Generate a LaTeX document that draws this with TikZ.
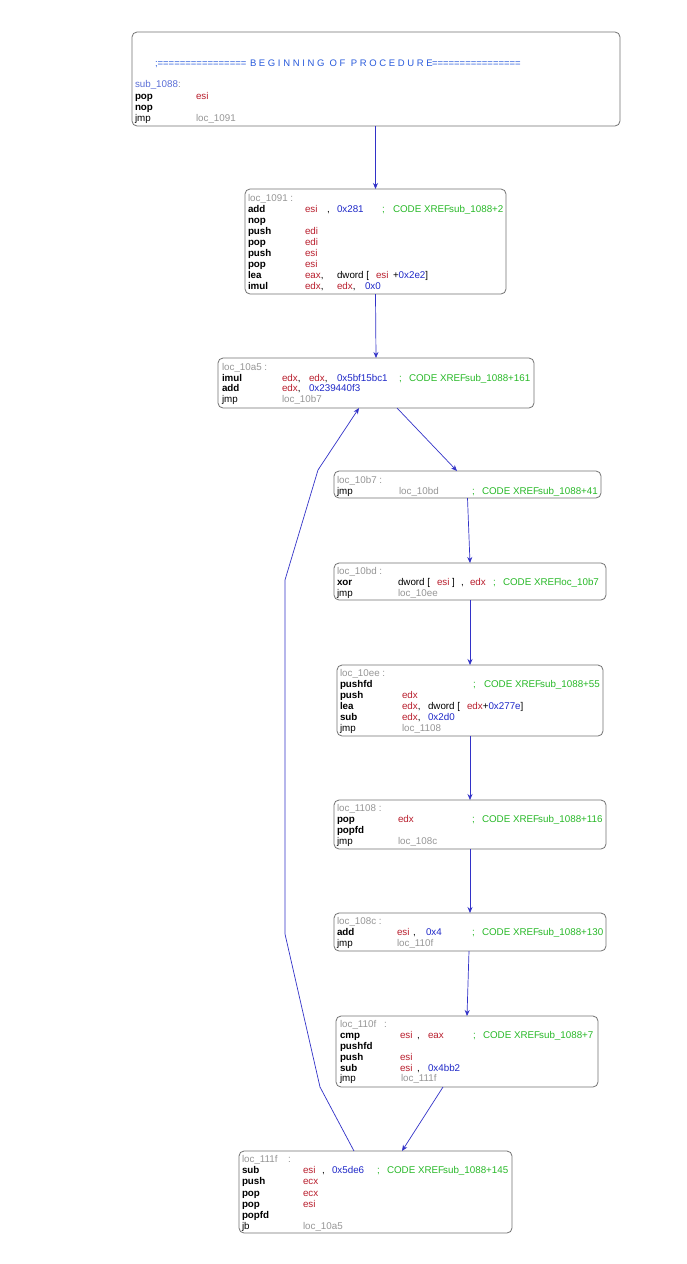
\documentclass[tikz,border=0pt]{standalone}
\usepackage{fontspec}
\setmainfont{Liberation Sans}
\usetikzlibrary{arrows.meta,calc}
\definecolor{boxgray}{RGB}{115,115,115}
\definecolor{regred}{RGB}{185,30,45}
\definecolor{numblue}{RGB}{30,40,200}
\definecolor{cmtgreen}{RGB}{40,185,40}
\definecolor{lblgray}{RGB}{150,150,150}
\definecolor{hdblue}{RGB}{40,90,220}
\definecolor{subblue}{RGB}{90,110,215}
\definecolor{edgeblue}{RGB}{50,50,200}
\newcounter{tkn}
\newcommand\tk[4]{\stepcounter{tkn}\node[tok,asm#3] (tk\arabic{tkn}) at (#1,#2) {#4};}
\newcommand\xref{CODE XREF\kern-1pt }
\begin{document}
\begin{tikzpicture}[x=1pt,y=-1pt,
  box/.style={draw=boxgray,line width=0.8pt,rounded corners=5pt,inner sep=0pt,outer sep=0pt,fill=white},
  tok/.style={anchor=base west,inner sep=0pt,outer sep=0pt,font=\fontsize{9.8}{11}\selectfont},
  asmmn/.style={font=\fontsize{9.8}{11}\selectfont\bfseries,text=black},
  asmpl/.style={text=black},
  asmrg/.style={text=regred},
  asmnm/.style={text=numblue},
  asmcm/.style={text=cmtgreen},
  asmgr/.style={text=lblgray},
  asmhd/.style={text=hdblue,font=\fontsize{9.5}{11}\selectfont},
  asmsb/.style={text=subblue},
  edge/.style={draw=edgeblue,line width=0.7pt,-{Stealth[length=6pt,width=5pt]}}]
\fill[white] (0,0) rectangle (687,1264);
\useasboundingbox (0,0) rectangle (687,1264);

% boxes
\node[box,minimum width=488pt,minimum height=94pt] (b1) at (376,79) {};
\node[box,minimum width=261pt,minimum height=105pt] (b1091) at (375.5,241.5) {};
\node[box,minimum width=316pt,minimum height=50pt] (b10a5) at (376,383) {};
\node[box,minimum width=267pt,minimum height=27pt] (b10b7) at (467.5,484.5) {};
\node[box,minimum width=272pt,minimum height=37pt] (b10bd) at (470,581.5) {};
\node[box,minimum width=266pt,minimum height=71pt] (b10ee) at (470,700.5) {};
\node[box,minimum width=272pt,minimum height=49pt] (b1108) at (470,824.5) {};
\node[box,minimum width=272pt,minimum height=38pt] (b108c) at (470,932) {};
\node[box,minimum width=262pt,minimum height=71pt] (b110f) at (467,1051.5) {};
\node[box,minimum width=273pt,minimum height=82pt] (b111f) at (375.5,1192) {};

% box 1
\tk{155}{66}{hd}{;================}
\tk{250}{66}{hd}{B E G I N N I N G\ \ O F\ \ P R O C E D U R E}
\tk{432}{66}{hd}{================}
\tk{135}{87}{sb}{sub\_1088\textcolor{lblgray}{:}}
\tk{135}{99}{mn}{pop} \tk{196}{99}{rg}{esi}
\tk{135}{110}{mn}{nop}
\tk{135}{121}{pl}{jmp} \tk{196}{121}{gr}{loc\_1091}

% loc_1091
\tk{248}{201}{gr}{loc\_1091 :}
\tk{248}{212}{mn}{add} \tk{305}{212}{rg}{esi} \tk{327}{212}{pl}{,} \tk{337}{212}{nm}{0x281} \tk{382}{212}{cm}{;} \tk{393}{212}{cm}{\xref sub\_1088+2}
\tk{248}{223}{mn}{nop}
\tk{248}{234}{mn}{push} \tk{305}{234}{rg}{edi}
\tk{248}{245}{mn}{pop} \tk{305}{245}{rg}{edi}
\tk{248}{256}{mn}{push} \tk{305}{256}{rg}{esi}
\tk{248}{267}{mn}{pop} \tk{305}{267}{rg}{esi}
\tk{248}{278}{mn}{lea} \tk{305}{278}{rg}{eax\textcolor{black}{,}} \tk{337}{278}{pl}{dword [} \tk{376}{278}{rg}{esi} \tk{393}{278}{pl}{+\textcolor{numblue}{0x2e2}]}
\tk{248}{289}{mn}{imul} \tk{305}{289}{rg}{edx\textcolor{black}{,}} \tk{337}{289}{rg}{edx\textcolor{black}{,}} \tk{365}{289}{nm}{0x0}

% loc_10a5
\tk{222}{370}{gr}{loc\_10a5 :}
\tk{222}{381}{mn}{imul} \tk{282}{381}{rg}{edx\textcolor{black}{,}} \tk{309}{381}{rg}{edx\textcolor{black}{,}} \tk{337}{381}{nm}{0x5bf15bc1} \tk{399}{381}{cm}{;} \tk{409}{381}{cm}{\xref sub\_1088+161}
\tk{222}{391}{mn}{add} \tk{282}{391}{rg}{edx\textcolor{black}{,}} \tk{309}{391}{nm}{0x239440f3}
\tk{222}{402}{pl}{jmp} \tk{282}{402}{gr}{loc\_10b7}

% loc_10b7
\tk{337}{483}{gr}{loc\_10b7 :}
\tk{337}{494}{pl}{jmp} \tk{399}{494}{gr}{loc\_10bd} \tk{472}{494}{cm}{;} \tk{482}{494}{cm}{\xref sub\_1088+41}

% loc_10bd
\tk{337}{574}{gr}{loc\_10bd :}
\tk{337}{585}{mn}{xor} \tk{398}{585}{pl}{dword [} \tk{437}{585}{rg}{esi} \tk{452}{585}{pl}{]} \tk{461}{585}{pl}{,} \tk{470}{585}{rg}{edx} \tk{493}{585}{cm}{;} \tk{503}{585}{cm}{\xref loc\_10b7}
\tk{337}{596}{pl}{jmp} \tk{398}{596}{gr}{loc\_10ee}

% loc_10ee
\tk{340}{676}{gr}{loc\_10ee :}
\tk{340}{687}{mn}{pushfd} \tk{473}{687}{cm}{;} \tk{484}{687}{cm}{\xref sub\_1088+55}
\tk{340}{698}{mn}{push} \tk{402}{698}{rg}{edx}
\tk{340}{709}{mn}{lea} \tk{402}{709}{rg}{edx\textcolor{black}{,}} \tk{428}{709}{pl}{dword [} \tk{467}{709}{rg}{edx\textcolor{black}{+}\textcolor{numblue}{0x277e}\textcolor{black}{]}}
\tk{340}{720}{mn}{sub} \tk{402}{720}{rg}{edx\textcolor{black}{,}} \tk{428}{720}{nm}{0x2d0}
\tk{340}{731}{pl}{jmp} \tk{402}{731}{gr}{loc\_1108}

% loc_1108
\tk{337}{811}{gr}{loc\_1108 :}
\tk{337}{822}{mn}{pop} \tk{398}{822}{rg}{edx} \tk{472}{822}{cm}{;} \tk{482}{822}{cm}{\xref sub\_1088+116}
\tk{337}{833}{mn}{popfd}
\tk{337}{844}{pl}{jmp} \tk{398}{844}{gr}{loc\_108c}

% loc_108c
\tk{337}{924}{gr}{loc\_108c :}
\tk{337}{935}{mn}{add} \tk{397}{935}{rg}{esi} \tk{413}{935}{pl}{,} \tk{426}{935}{nm}{0x4} \tk{472}{935}{cm}{;} \tk{482}{935}{cm}{\xref sub\_1088+130}
\tk{337}{946}{pl}{jmp} \tk{397}{946}{gr}{loc\_110f}

% loc_110f
\tk{340}{1027}{gr}{loc\_110f} \tk{384}{1027}{gr}{:}
\tk{340}{1038}{mn}{cmp} \tk{400}{1038}{rg}{esi} \tk{417}{1038}{pl}{,} \tk{428}{1038}{rg}{eax} \tk{473}{1038}{cm}{;} \tk{483}{1038}{cm}{\xref sub\_1088+7}
\tk{340}{1049}{mn}{pushfd}
\tk{340}{1060}{mn}{push} \tk{400}{1060}{rg}{esi}
\tk{340}{1071}{mn}{sub} \tk{400}{1071}{rg}{esi} \tk{417}{1071}{pl}{,} \tk{428}{1071}{nm}{0x4bb2}
\tk{340}{1081}{pl}{jmp} \tk{401}{1081}{gr}{loc\_111f}

% loc_111f
\tk{242}{1162}{gr}{loc\_111f} \tk{288}{1162}{gr}{:}
\tk{242}{1173}{mn}{sub} \tk{303}{1173}{rg}{esi} \tk{322}{1173}{pl}{,} \tk{332}{1173}{nm}{0x5de6} \tk{377}{1173}{cm}{;} \tk{387}{1173}{cm}{\xref sub\_1088+145}
\tk{242}{1184}{mn}{push} \tk{303}{1184}{rg}{ecx}
\tk{242}{1196}{mn}{pop} \tk{303}{1196}{rg}{ecx}
\tk{242}{1207}{mn}{pop} \tk{303}{1207}{rg}{esi}
\tk{242}{1218}{mn}{popfd}
\tk{242}{1229}{pl}{jb} \tk{303}{1229}{gr}{loc\_10a5}

% edges
\draw[edge] (b1.south -| b1091.north) -- (b1091.north);
\draw[edge] (b1091.south) -- (b10a5.north);
\draw[edge] ([xshift=21pt]b10a5.south) -- ([xshift=-10.5pt]b10b7.north);
\draw[edge] (b10b7.south) -- (b10bd.north);
\draw[edge] (b10bd.south) -- (b10ee.north);
\draw[edge] (b10ee.south) -- (b1108.north);
\draw[edge] (b1108.south) -- (b108c.north);
\draw[edge] ([xshift=-1pt]b108c.south) -- (b110f.north);
\draw[edge] ([xshift=-24pt]b110f.south) -- ([xshift=26.5pt]b111f.north);
\coordinate (k1) at (320,1087);
\coordinate (k2) at (285,934);
\coordinate (k3) at (285,580);
\coordinate (k4) at (318,470);
\draw[edge] ([xshift=-21.5pt]b111f.north) -- (k1) -- (k2) -- (k3) -- (k4) -- ([xshift=-17pt]b10a5.south);
\end{tikzpicture}
\end{document}
